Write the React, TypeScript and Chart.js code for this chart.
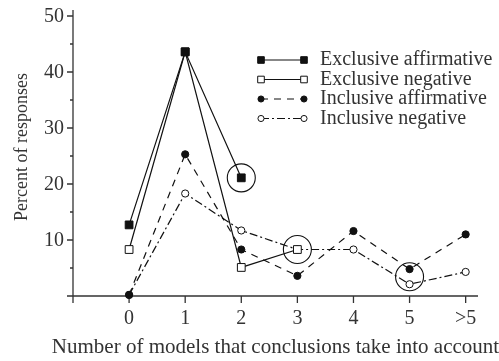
import React, { useEffect, useRef } from 'react';
import { Chart, registerables } from 'chart.js';
Chart.register(...registerables);

const categories = ['0', '1', '2', '3', '4', '5', '>5'];
const exclusiveAffirmative = [12.7, 43.6, 21.1];
const exclusiveNegative = [8.3, 43.6, 5.1, 8.3];
const inclusiveAffirmative = [0.2, 25.3, 8.3, 3.6, 11.6, 4.8, 11.0];
const inclusiveNegative = [0.2, 18.3, 11.7, 8.3, 8.3, 2.1, 4.3];
const seriesLabels = ['Exclusive affirmative', 'Exclusive negative', 'Inclusive affirmative', 'Inclusive negative'];
const yMajorTicks = [10, 20, 30, 40, 50];
const yMinorTicks = [5, 15, 25, 35, 45];
const circledCategories = [2, 3, 5];
const circledValues = [21.1, 8.3, 3.45];
const yTitle = 'Percent of responses';
const xTitle = 'Number of models that conclusions take into account';

const FONT = '"Liberation Serif", "Times New Roman", serif';
const TEXT = '#333';
const INK = '#111';

const toXY = (arr: number[]) => arr.map((v, i) => ({ x: i, y: v }));

const styles = [
  { style: 'rect', fill: INK, dash: [] as number[], r: 5.5 },
  { style: 'rect', fill: '#fff', dash: [] as number[], r: 5.5 },
  { style: 'circle', fill: INK, dash: [7, 6], r: 3.6 },
  { style: 'circle', fill: '#fff', dash: [8, 3, 2, 3], r: 3.6 },
];

function drawMarker(ctx: CanvasRenderingContext2D, style: string, fill: string, r: number, x: number, y: number) {
  ctx.save();
  ctx.setLineDash([]);
  ctx.fillStyle = fill;
  ctx.strokeStyle = INK;
  ctx.lineWidth = 1;
  ctx.beginPath();
  if (style === 'rect') {
    const s = r / Math.SQRT2;
    ctx.rect(x - s, y - s, 2 * s, 2 * s);
  } else {
    ctx.arc(x, y, r, 0, Math.PI * 2);
  }
  ctx.fill();
  ctx.stroke();
  ctx.restore();
}

const customPlugin = {
  id: 'customAxes',
  beforeDatasetsDraw(chart: any) {
    const ctx: CanvasRenderingContext2D = chart.ctx;
    const xs = chart.scales.x;
    const ys = chart.scales.y;
    const left = xs.getPixelForValue(-1);
    const y0 = ys.getPixelForValue(0);
    const top = chart.chartArea.top;
    const right = chart.chartArea.right;
    ctx.save();
    ctx.strokeStyle = '#333';
    ctx.lineWidth = 1.3;
    ctx.beginPath();
    ctx.moveTo(left, top);
    ctx.lineTo(left, y0 + 7);
    ctx.moveTo(left - 6, y0);
    ctx.lineTo(right, y0);
    yMajorTicks.forEach((v) => {
      const p = ys.getPixelForValue(v);
      ctx.moveTo(left - 6, p);
      ctx.lineTo(left, p);
    });
    yMinorTicks.forEach((v) => {
      const p = ys.getPixelForValue(v);
      ctx.moveTo(left - 3, p);
      ctx.lineTo(left, p);
    });
    categories.forEach((_, i) => {
      const p = xs.getPixelForValue(i);
      ctx.moveTo(p, y0);
      ctx.lineTo(p, y0 + 7);
    });
    ctx.stroke();

    ctx.fillStyle = TEXT;
    ctx.font = `20px ${FONT}`;
    ctx.textAlign = 'right';
    ctx.textBaseline = 'middle';
    yMajorTicks.forEach((v) => {
      ctx.fillText(String(v), left - 9, ys.getPixelForValue(v) + 1);
    });
    ctx.textAlign = 'center';
    categories.forEach((c, i) => {
      ctx.fillText(c, xs.getPixelForValue(i), y0 + 23);
    });
    ctx.font = `21px ${FONT}`;
    ctx.fillText(xTitle, (left + right) / 2, y0 + 51);
    ctx.save();
    ctx.font = `18px ${FONT}`;
    ctx.translate(22, (top + y0) / 2 - 6);
    ctx.rotate(-Math.PI / 2);
    ctx.fillText(yTitle, 0, 0);
    ctx.restore();
    ctx.restore();
  },
  afterDatasetsDraw(chart: any) {
    const ctx: CanvasRenderingContext2D = chart.ctx;
    const xs = chart.scales.x;
    const ys = chart.scales.y;
    ctx.save();
    ctx.strokeStyle = INK;
    ctx.lineWidth = 1.1;
    circledCategories.forEach((c, i) => {
      ctx.beginPath();
      ctx.arc(xs.getPixelForValue(c), ys.getPixelForValue(circledValues[i]), 14, 0, Math.PI * 2);
      ctx.stroke();
    });
    // legend
    const lx0 = 261;
    const lx1 = 304;
    const rowY = [60, 79.5, 99, 118.5];
    seriesLabels.forEach((label, i) => {
      const s = styles[i];
      const y = rowY[i];
      ctx.save();
      ctx.strokeStyle = INK;
      ctx.lineWidth = 1.2;
      ctx.setLineDash(s.dash);
      ctx.beginPath();
      ctx.moveTo(lx0, y);
      ctx.lineTo(lx1, y);
      ctx.stroke();
      ctx.restore();
      drawMarker(ctx, s.style, s.fill, s.r * 0.85, lx0, y);
      drawMarker(ctx, s.style, s.fill, s.r * 0.85, lx1, y);
      ctx.fillStyle = TEXT;
      ctx.font = `20px ${FONT}`;
      ctx.textAlign = 'left';
      ctx.textBaseline = 'middle';
      ctx.fillText(label, 320, y);
    });
    ctx.restore();
  },
};

export default function App() {
  const ref = useRef<HTMLCanvasElement | null>(null);
  useEffect(() => {
    document.body.style.margin = '0';
    if (!ref.current) return;
    const series = [exclusiveAffirmative, exclusiveNegative, inclusiveAffirmative, inclusiveNegative];
    const chart = new Chart(ref.current, {
      type: 'line',
      data: {
        datasets: series.map((arr, i) => ({
          label: seriesLabels[i],
          data: toXY(arr),
          borderColor: INK,
          borderWidth: 1.2,
          borderDash: styles[i].dash,
          pointStyle: styles[i].style as any,
          pointRadius: styles[i].r,
          pointBackgroundColor: styles[i].fill,
          pointBorderColor: INK,
          pointBorderWidth: 1,
          tension: 0,
          fill: false,
          clip: false as any,
        })),
      },
      options: {
        animation: false,
        responsive: false,
        maintainAspectRatio: false,
        devicePixelRatio: 1,
        layout: { padding: { left: 73, right: 21, top: 10, bottom: 65 } },
        plugins: { legend: { display: false }, tooltip: { enabled: false } },
        events: [],
        scales: {
          x: { type: 'linear', display: false, min: -1, max: 6.22 },
          y: { type: 'linear', display: false, min: 0, max: 51.07 },
        },
      },
      plugins: [customPlugin],
    });
    return () => chart.destroy();
  }, []);
  return <canvas ref={ref} width={499} height={361} style={{ display: 'block' }} />;
}
